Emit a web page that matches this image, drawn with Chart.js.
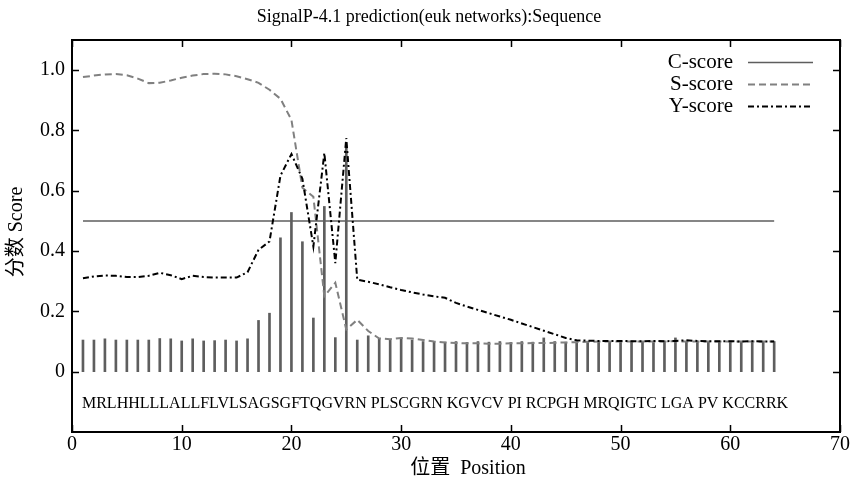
<!DOCTYPE html>
<html>
<head>
<meta charset="utf-8">
<script src="https://cdn.jsdelivr.net/npm/chart.js@4/dist/chart.umd.min.js"></script>
<style>
html,body{margin:0;padding:0;background:#fff;}
#wrap{width:855px;height:485px;position:relative;}
</style>
</head>
<body>
<div id="wrap"><canvas id="c" width="855" height="485"></canvas></div>
<script>
const titleText = "SignalP-4.1 prediction(euk networks):Sequence";
const xTitle = "位置  Position";
const yTitle = "分数 Score";
const sequenceText = "MRLHHLLLALLFLVLSAGSGFTQGVRN PLSCGRN KGVCV PI RCPGH MRQIGTC LGA PV KCCRRK";
const positions = [1,2,3,4,5,6,7,8,9,10,11,12,13,14,15,16,17,18,19,20,21,22,23,24,25,26,27,28,29,30,31,32,33,34,35,36,37,38,39,40,41,42,43,44,45,46,47,48,49,50,51,52,53,54,55,56,57,58,59,60,61,62,63,64];
const cScore = [0.105,0.105,0.109,0.105,0.105,0.105,0.105,0.110,0.109,0.102,0.109,0.102,0.103,0.105,0.102,0.109,
  0.170,0.194,0.444,0.528,0.431,0.178,0.548,0.113,0.745,0.105,0.119,0.109,0.105,0.110,0.105,0.100,
  0.100,0.098,0.100,0.097,0.100,0.098,0.100,0.097,0.100,0.098,0.112,0.100,0.098,0.100,0.097,0.100,
  0.100,0.098,0.100,0.100,0.097,0.100,0.112,0.100,0.100,0.098,0.100,0.100,0.098,0.100,0.100,0.100];
const sScore = [0.977,0.982,0.986,0.987,0.983,0.972,0.957,0.958,0.966,0.975,0.982,0.987,0.988,0.986,0.980,0.970,
  0.958,0.935,0.905,0.835,0.610,0.580,0.250,0.295,0.140,0.172,0.135,0.110,0.108,0.112,0.110,0.105,
  0.100,0.097,0.095,0.094,0.094,0.093,0.093,0.094,0.094,0.095,0.095,0.096,0.097,0.098,0.099,0.100,
  0.100,0.100,0.100,0.100,0.100,0.100,0.101,0.100,0.100,0.100,0.100,0.100,0.100,0.100,0.100,0.100];
const yScore = [0.310,0.316,0.319,0.318,0.314,0.314,0.318,0.328,0.320,0.307,0.318,0.314,0.312,0.312,0.312,0.330,
  0.404,0.432,0.650,0.722,0.640,0.415,0.725,0.360,0.775,0.305,0.298,0.290,0.280,0.271,0.263,0.256,
  0.250,0.245,0.228,0.216,0.205,0.194,0.183,0.172,0.160,0.148,0.136,0.124,0.112,0.104,0.103,0.102,
  0.102,0.102,0.101,0.101,0.102,0.101,0.102,0.104,0.102,0.101,0.101,0.101,0.100,0.101,0.100,0.100];
const cutoffX = [1, 64];
const cutoffY = [0.5, 0.5];
const xTicks = [0,10,20,30,40,50,60,70];
const yTicks = [0,0.2,0.4,0.6,0.8,1.0];
const seriesNames = ["C-score","S-score","Y-score"];

const FONT = "'Liberation Serif','Times New Roman',serif";
const CJK = "'Liberation Serif','Noto Sans CJK SC',serif";

const pts = (xs, ys) => xs.map((x, i) => ({x: x, y: ys[i]}));

const decor = {
  id: 'decor',
  afterDraw(chart) {
    const ctx = chart.ctx;
    const a = chart.chartArea;
    const xs = chart.scales.x, ys = chart.scales.y;
    ctx.save();
    // frame
    ctx.strokeStyle = '#000';
    ctx.lineWidth = 2;
    ctx.strokeRect(a.left, a.top, a.right - a.left, a.bottom - a.top);
    // inward ticks
    ctx.lineWidth = 1.5;
    const tl = 7;
    ctx.beginPath();
    xTicks.forEach(v => {
      const px = Math.round(xs.getPixelForValue(v)) + 0.5;
      ctx.moveTo(px, a.bottom); ctx.lineTo(px, a.bottom - tl);
      ctx.moveTo(px, a.top); ctx.lineTo(px, a.top + tl);
    });
    yTicks.forEach(v => {
      const py = Math.round(ys.getPixelForValue(v)) + 0.5;
      ctx.moveTo(a.left, py); ctx.lineTo(a.left + tl, py);
      ctx.moveTo(a.right, py); ctx.lineTo(a.right - tl, py);
    });
    ctx.stroke();
    // title
    ctx.fillStyle = '#000';
    ctx.font = "18px " + FONT;
    ctx.textAlign = 'center';
    ctx.textBaseline = 'middle';
    ctx.fillText(titleText, 429, 17);
    // x title
    ctx.font = "20px " + CJK;
    ctx.textAlign = 'center';
    ctx.fillText(xTitle, 468, 469);
    // y title
    ctx.save();
    ctx.translate(17, 232);
    ctx.rotate(-Math.PI / 2);
    ctx.fillText(yTitle, 0, 0);
    ctx.restore();
    // sequence
    ctx.font = "16px " + FONT;
    ctx.textAlign = 'left';
    ctx.textBaseline = 'alphabetic';
    ctx.fillText(sequenceText, xs.getPixelForValue(1) - 1, ys.getPixelForValue(-0.12));
    // legend
    const ds = chart.data.datasets;
    ctx.font = "21px " + FONT;
    ctx.textAlign = 'right';
    ctx.textBaseline = 'middle';
    seriesNames.forEach((name, i) => {
      const d = ds.find(q => q.label === name);
      const y = 62 + i * 22;
      ctx.fillStyle = '#000';
      ctx.fillText(name, 733, y);
      ctx.strokeStyle = d.legendColor;
      ctx.lineWidth = d.legendWidth;
      ctx.setLineDash(d.borderDash || []);
      ctx.beginPath();
      ctx.moveTo(748, y + 0.5); ctx.lineTo(813, y + 0.5);
      ctx.stroke();
      ctx.setLineDash([]);
    });
    ctx.restore();
  }
};

new Chart(document.getElementById('c'), {
  data: {
    datasets: [
      { type: 'bar', label: 'C-score', data: pts(positions, cScore), backgroundColor: '#5e5e5e',
        borderWidth: 0, legendColor: '#5e5e5e', legendWidth: 1.5, barThickness: 2, order: 3 },
      { type: 'line', label: 'cutoff', data: pts(cutoffX, cutoffY), borderColor: '#5e5e5e', borderWidth: 1.5,
        pointRadius: 0, order: 4 },
      { type: 'line', label: 'S-score', data: pts(positions, sScore), borderColor: '#808080', legendColor: '#808080',
        borderWidth: 2, legendWidth: 2, borderDash: [7, 4], pointRadius: 0, tension: 0, order: 2 },
      { type: 'line', label: 'Y-score', data: pts(positions, yScore), borderColor: '#000', legendColor: '#000',
        borderWidth: 2, legendWidth: 2, borderDash: [6, 3, 2, 3], pointRadius: 0, tension: 0, order: 1 }
    ]
  },
  options: {
    responsive: false,
    animation: false,
    layout: { padding: { top: 40, right: 15, left: 0, bottom: 0 } },
    plugins: { legend: { display: false }, title: { display: false }, tooltip: { enabled: false } },
    scales: {
      x: {
        type: 'linear', min: 0, max: 70, offset: false,
        grid: { display: false, drawTicks: false, offset: false },
        border: { display: false },
        afterBuildTicks: s => { s.ticks = xTicks.map(v => ({ value: v })); },
        afterFit: s => { s.height = 53; },
        ticks: { color: '#000', font: { family: FONT, size: 20 }, padding: 1, maxRotation: 0,
                 callback: v => String(v) }
      },
      y: {
        type: 'linear', min: -0.2, max: 1.1,
        grid: { display: false, drawTicks: false },
        border: { display: false },
        afterBuildTicks: s => { s.ticks = yTicks.map(v => ({ value: v })); },
        afterFit: s => { s.width = 72; },
        ticks: { color: '#000', font: { family: FONT, size: 20 }, padding: 7,
                 callback: v => (v === 0 ? '0' : Number(v).toFixed(1)) }
      }
    }
  },
  plugins: [decor]
});
</script>
</body>
</html>
